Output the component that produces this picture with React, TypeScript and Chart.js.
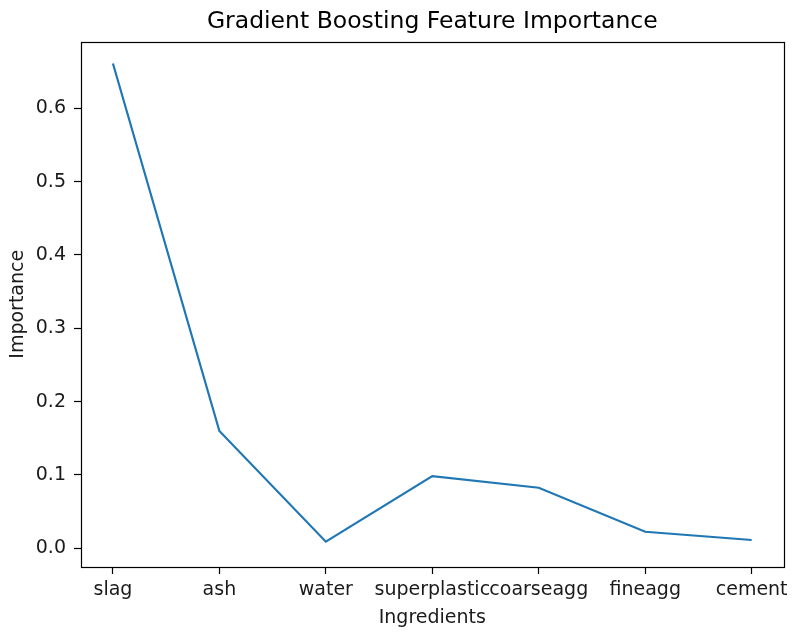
import React, { useEffect, useRef } from "react";
import { Chart, registerables } from "chart.js";

Chart.register(...registerables);

const categories = ["slag", "ash", "water", "superplastic", "coarseagg", "fineagg", "cement"];
const importance = [0.661, 0.16, 0.009, 0.0985, 0.0826, 0.0226, 0.0113];
const yTickValues = [0, 0.1, 0.2, 0.3, 0.4, 0.5, 0.6];

const FONT = "'DejaVu Sans', sans-serif";

const framePlugin = {
  id: "frame",
  afterDraw(chart: any) {
    const { ctx, chartArea } = chart;
    ctx.save();
    ctx.strokeStyle = "#000";
    ctx.lineWidth = 1.2;
    const l = Math.round(chartArea.left) + 0.5;
    const t = Math.round(chartArea.top) + 0.5;
    const r = Math.round(chartArea.right) + 0.5;
    const b = Math.round(chartArea.bottom) + 0.5;
    ctx.strokeRect(l, t, r - l, b - t);
    ctx.restore();
  },
};

export default function App() {
  const ref = useRef<HTMLCanvasElement | null>(null);

  useEffect(() => {
    document.body.style.margin = "0";
    if (!ref.current) return;
    const chart = new Chart(ref.current, {
      type: "line",
      data: {
        datasets: [
          {
            label: "Importance",
            data: importance.map((v, i) => ({ x: i, y: v })),
            borderColor: "#1f77b4",
            backgroundColor: "#1f77b4",
            borderWidth: 2.2,
            pointRadius: 0,
            tension: 0,
            fill: false,
          },
        ],
      },
      options: {
        animation: false,
        responsive: true,
        maintainAspectRatio: false,
        layout: { padding: { left: 0, right: 7, top: 0, bottom: 0 } },
        plugins: {
          legend: { display: false },
          tooltip: { enabled: false },
          title: {
            display: true,
            text: "Gradient Boosting Feature Importance",
            color: "#000",
            fullSize: false,
            font: { family: FONT, size: 23.5, weight: "normal" },
            padding: { top: 7.4, bottom: 5.9 },
          },
        },
        scales: {
          x: {
            type: "linear",
            min: -0.3,
            max: 6.3,
            afterBuildTicks: (s: any) => {
              s.ticks = categories.map((_, i) => ({ value: i }));
            },
            afterFit: (s: any) => {
              s.height = 65;
            },
            ticks: {
              autoSkip: false,
              maxRotation: 0,
              minRotation: 0,
              padding: 5,
              color: "#1a1a1a",
              font: { family: FONT, size: 19 },
              callback: (v: any) => categories[Math.round(Number(v))] ?? "",
            },
            grid: {
              display: true,
              drawOnChartArea: false,
              drawTicks: true,
              tickLength: 7,
              tickWidth: 1.2,
              tickColor: "#000",
            },
            border: { display: false },
            title: {
              display: true,
              text: "Ingredients",
              color: "#1a1a1a",
              font: { family: FONT, size: 19 },
              padding: { top: 0, bottom: 3 },
            },
          },
          y: {
            type: "linear",
            min: -0.0255,
            max: 0.691,
            afterBuildTicks: (s: any) => {
              s.ticks = yTickValues.map((v) => ({ value: v }));
            },
            afterFit: (s: any) => {
              s.width = 81;
            },
            ticks: {
              padding: 8,
              color: "#1a1a1a",
              font: { family: FONT, size: 19 },
              callback: (v: any) => Number(v).toFixed(1),
            },
            grid: {
              display: true,
              drawOnChartArea: false,
              drawTicks: true,
              tickLength: 7,
              tickWidth: 1.2,
              tickColor: "#000",
            },
            border: { display: false },
            title: {
              display: true,
              text: "Importance",
              color: "#1a1a1a",
              font: { family: FONT, size: 19 },
              padding: { top: 7, bottom: 0 },
            },
          },
        },
      },
      plugins: [framePlugin],
    });
    return () => chart.destroy();
  }, []);

  return (
    <div style={{ position: "fixed", left: 0, top: 0, width: 793, height: 632 }}>
      <canvas ref={ref} />
    </div>
  );
}
